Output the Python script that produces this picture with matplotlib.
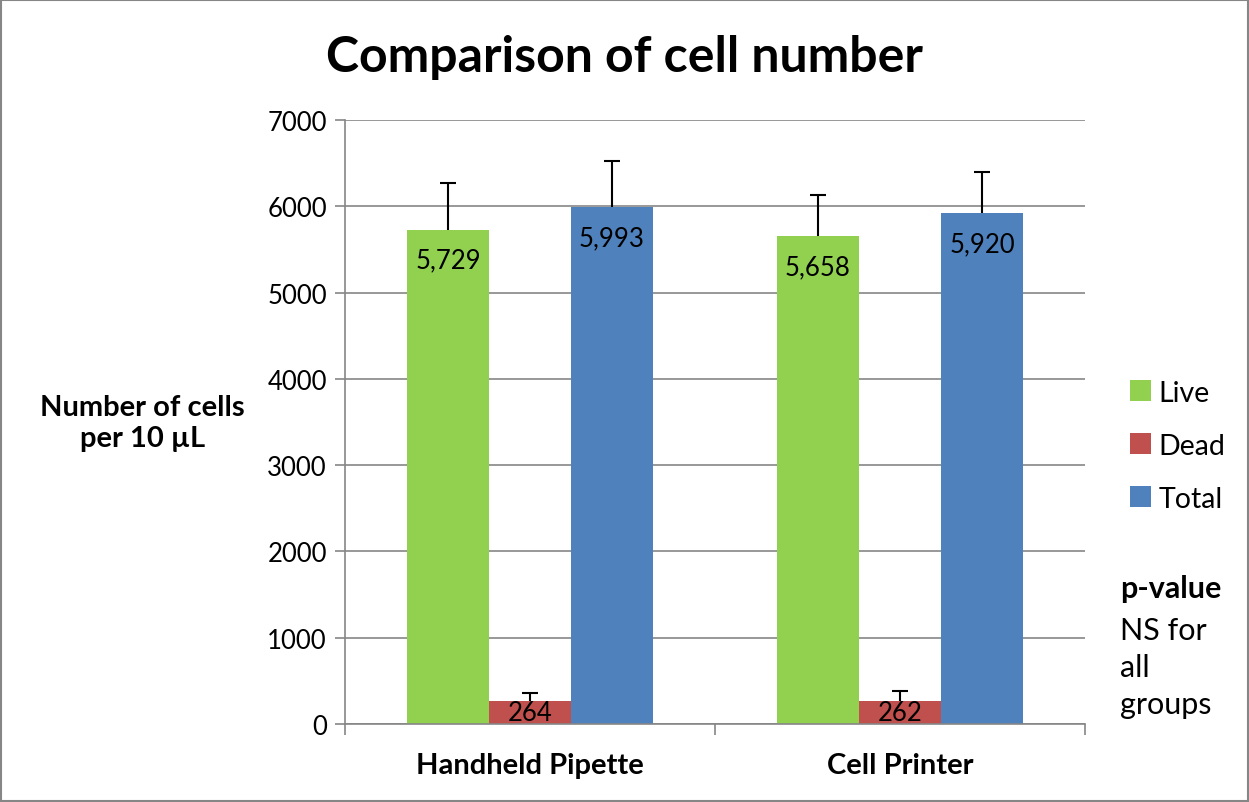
import matplotlib.pyplot as plt
import matplotlib.patches as pt
import numpy as np

plt.rcParams['font.family'] = ['Lato', 'DejaVu Sans']

groups = ['Handheld Pipette', 'Cell Printer']
series = ['Live', 'Dead', 'Total']
live = [5729, 5658]
dead = [264, 262]
total = [5993, 5920]
live_err = [541, 472]
dead_err = [92, 120]
total_err = [528, 477]
colors = ['#92D050', '#C0504D', '#4F81BD']

fig = plt.figure(figsize=(12.49, 8.03), dpi=100)
ax = fig.add_axes([0.2762, 0.0971, 0.8687 - 0.2762, 0.8493 - 0.0971])

x = np.arange(len(groups))
w = 0.2216
vals = [live, dead, total]
errs = [live_err, dead_err, total_err]
for i, (v, e, c, name) in enumerate(zip(vals, errs, colors, series)):
    pos = x + (i - 1) * w
    v = np.array(v)
    e = np.array(e)
    ax.bar(pos, v, w, color=c, label=name, zorder=2)
    # plus-only error bars, cap on top only
    ax.errorbar(pos, v, yerr=[np.zeros(len(e)), e], fmt='none', ecolor='black',
                elinewidth=1.5, capsize=0, zorder=3)
    ax.plot(pos, v + e, ls='none', marker='_', ms=11, mew=1.5, color='black', zorder=3)
    for px, py in zip(pos, v):
        if py > 1000:
            ax.annotate(f'{py:,}', (px, py), xytext=(0, -13), textcoords='offset points',
                        ha='center', va='top', fontsize=18.5, zorder=4)
        else:
            ax.text(px, py / 2, f'{py:,}', ha='center', va='center', fontsize=18.5, zorder=4)

ax.set_xlim(-0.5, 1.5)
ax.set_ylim(0, 7000)
ax.set_yticks(np.arange(0, 7001, 1000))
ax.set_yticklabels([str(t) for t in range(0, 7001, 1000)], fontsize=18.5)
ax.set_xticks([-0.5, 0.5, 1.5])
ax.set_xticklabels([])
ax.set_xticks(x, minor=True)
ax.set_xticklabels(groups, minor=True, fontsize=21, fontweight='bold')
ax.tick_params(axis='x', which='minor', length=0, pad=20)
ax.tick_params(axis='x', which='major', length=8, width=1.2, color='#868686', direction='out')
ax.tick_params(axis='y', length=7, width=1.2, color='#868686', pad=6)
ax.yaxis.grid(True, color='#868686', lw=1.2, zorder=0)
ax.set_axisbelow(True)
for s in ['top', 'right']:
    ax.spines[s].set_visible(False)
for s in ['left', 'bottom']:
    ax.spines[s].set_color('#868686')
    ax.spines[s].set_linewidth(1.2)

fig.text(0.5, 0.928, 'Comparison of cell number', ha='center', va='center',
         fontsize=36, fontweight='bold')
fig.text(0.114, 0.473, 'Number of cells\nper 10 µL', ha='center', va='center',
         fontsize=21, fontweight='bold', linespacing=1.25)

leg = fig.legend(loc='upper left', bbox_to_anchor=(0.884, 0.558), frameon=False,
                 fontsize=20.5, handlelength=0.75, handleheight=0.75, labelspacing=0.95,
                 handletextpad=0.25)

fig.text(0.897, 0.267, 'p-value', ha='left', va='center', fontsize=22, fontweight='bold')
fig.text(0.897, 0.168, 'NS for\nall\ngroups', ha='left', va='center', fontsize=22,
         linespacing=1.4)

fig.patches.append(pt.Rectangle((0.001, 0.001), 0.998, 0.998, transform=fig.transFigure,
                                fill=False, edgecolor='#868686', lw=1.5))

fig.savefig('out.png', dpi=100)
